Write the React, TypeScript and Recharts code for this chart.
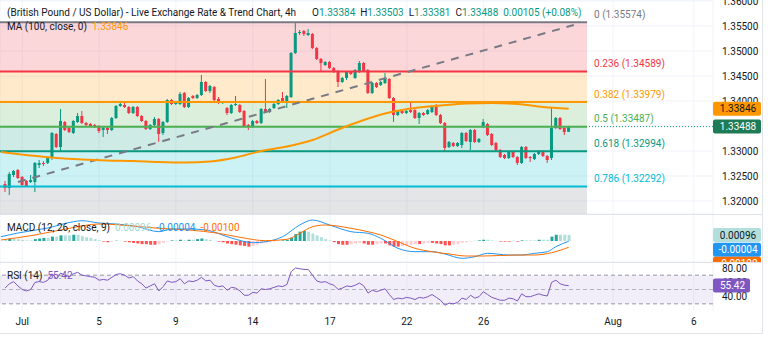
import {
  ComposedChart,
  Bar,
  Line,
  XAxis,
  YAxis,
  CartesianGrid,
  ReferenceArea,
  ReferenceLine,
  Cell,
} from 'recharts';

// GBP/USD 4h candles (index 0 = first visible bar)
const open = [
  1.3234, 1.3226, 1.3252, 1.3262, 1.3248, 1.324, 1.3238, 1.3238, 1.3272, 1.3276,
  1.3276, 1.3286, 1.3334, 1.3308, 1.3358, 1.3346, 1.3336, 1.3358, 1.337, 1.3356,
  1.3354, 1.3352, 1.335, 1.3342, 1.3346, 1.3342, 1.3366, 1.339, 1.3392, 1.3388,
  1.3376, 1.3388, 1.337, 1.336, 1.3344, 1.3352, 1.3364, 1.3336, 1.3358, 1.3402,
  1.3394, 1.3394, 1.3416, 1.3388, 1.341, 1.3406, 1.3412, 1.3438, 1.342, 1.3428,
  1.3404, 1.3396, 1.3386, 1.3376, 1.3392, 1.3392, 1.338, 1.3352, 1.3348, 1.336,
  1.3356, 1.3384, 1.3378, 1.3386, 1.3394, 1.3406, 1.34, 1.3408, 1.3496, 1.3536,
  1.354, 1.3532, 1.3534, 1.3506, 1.3484, 1.3472, 1.3478, 1.3466, 1.3458, 1.3438,
  1.3446, 1.3458, 1.3446, 1.3458, 1.3476, 1.3462, 1.3416, 1.3436, 1.3432, 1.3436,
  1.3444, 1.3406, 1.3372, 1.338, 1.3376, 1.3382, 1.3382, 1.3366, 1.3376, 1.3374,
  1.3378, 1.339, 1.3372, 1.3356, 1.3308, 1.3316, 1.331, 1.3312, 1.3336, 1.3318,
  1.3342, 1.3318, 1.3348, 1.3354, 1.3334, 1.3316, 1.3302, 1.3292, 1.3286, 1.3298,
  1.3288, 1.3276, 1.3308, 1.3288, 1.3284, 1.3294, 1.33, 1.329, 1.3286, 1.3346,
  1.3366, 1.3346, 1.33384,
];
const high = [
  1.324, 1.3258, 1.3262, 1.3264, 1.325, 1.3242, 1.3252, 1.3278, 1.3282, 1.328,
  1.3288, 1.3338, 1.3336, 1.3384, 1.336, 1.3348, 1.3362, 1.3376, 1.338, 1.3358,
  1.3356, 1.3354, 1.3352, 1.3348, 1.3348, 1.3368, 1.3392, 1.3398, 1.3396, 1.339,
  1.339, 1.339, 1.3372, 1.3362, 1.3354, 1.3368, 1.3366, 1.336, 1.3404, 1.3404,
  1.34, 1.3418, 1.3418, 1.3408, 1.3412, 1.3414, 1.3452, 1.344, 1.3432, 1.343,
  1.3408, 1.34, 1.3388, 1.3394, 1.341, 1.3394, 1.3382, 1.3354, 1.3362, 1.3362,
  1.3386, 1.3444, 1.3386, 1.3396, 1.3404, 1.3418, 1.3412, 1.3498, 1.35574, 1.3542,
  1.3542, 1.3544, 1.3536, 1.3508, 1.3486, 1.348, 1.348, 1.3468, 1.3462, 1.3448,
  1.346, 1.346, 1.3464, 1.348, 1.3478, 1.3464, 1.3438, 1.3438, 1.344, 1.3456,
  1.3446, 1.3408, 1.3382, 1.3382, 1.3384, 1.3396, 1.3384, 1.3378, 1.3378, 1.3384,
  1.3392, 1.3394, 1.3374, 1.3358, 1.332, 1.3318, 1.3318, 1.3338, 1.3338, 1.3344,
  1.3344, 1.3326, 1.3364, 1.3356, 1.3336, 1.3318, 1.3304, 1.3294, 1.33, 1.33,
  1.329, 1.331, 1.331, 1.329, 1.3296, 1.3302, 1.3302, 1.3292, 1.3386, 1.3368,
  1.3368, 1.3348, 1.33503,
];
const low = [
  1.3218, 1.3212, 1.3248, 1.3244, 1.323, 1.3228, 1.3236, 1.3218, 1.3266, 1.327,
  1.3274, 1.3282, 1.3306, 1.3298, 1.334, 1.3336, 1.3334, 1.3356, 1.3354, 1.335,
  1.3348, 1.3346, 1.3336, 1.3328, 1.3334, 1.334, 1.3364, 1.3388, 1.3386, 1.3374,
  1.3374, 1.3368, 1.3358, 1.3342, 1.3342, 1.335, 1.3318, 1.3332, 1.3356, 1.3392,
  1.3392, 1.3392, 1.3386, 1.3386, 1.3404, 1.3404, 1.341, 1.3418, 1.3416, 1.3396,
  1.3394, 1.3394, 1.3372, 1.3374, 1.339, 1.3376, 1.3348, 1.3342, 1.3346, 1.3354,
  1.3354, 1.3376, 1.3376, 1.3384, 1.3392, 1.3398, 1.3386, 1.3406, 1.3494, 1.3532,
  1.353, 1.353, 1.3504, 1.3482, 1.3458, 1.347, 1.3464, 1.3456, 1.3428, 1.3436,
  1.3442, 1.3452, 1.3444, 1.3456, 1.3458, 1.3414, 1.3414, 1.3426, 1.343, 1.3434,
  1.3404, 1.3358, 1.337, 1.3374, 1.3374, 1.3376, 1.3364, 1.3354, 1.337, 1.3372,
  1.3376, 1.337, 1.3354, 1.3298, 1.3306, 1.3308, 1.3308, 1.3306, 1.3318, 1.3302,
  1.3316, 1.3316, 1.3346, 1.333, 1.331, 1.3298, 1.3286, 1.3284, 1.3284, 1.3286,
  1.3272, 1.3274, 1.3284, 1.3278, 1.3282, 1.3292, 1.3288, 1.3276, 1.3282, 1.3344,
  1.3342, 1.3332, 1.33381,
];
const close = [
  1.3226, 1.3254, 1.326, 1.3246, 1.3232, 1.323, 1.3242, 1.3276, 1.3276, 1.3274,
  1.3286, 1.3336, 1.3308, 1.336, 1.3342, 1.3338, 1.336, 1.337, 1.3356, 1.3352,
  1.335, 1.3348, 1.334, 1.3346, 1.3342, 1.3366, 1.339, 1.3394, 1.3388, 1.3376,
  1.3388, 1.337, 1.336, 1.3344, 1.3352, 1.3364, 1.3334, 1.3358, 1.3402, 1.3394,
  1.3398, 1.3414, 1.3388, 1.3406, 1.3406, 1.3412, 1.3438, 1.342, 1.343, 1.3402,
  1.3396, 1.3398, 1.3376, 1.3392, 1.3394, 1.3378, 1.335, 1.3348, 1.336, 1.3356,
  1.3384, 1.3378, 1.3384, 1.3394, 1.3402, 1.34, 1.341, 1.3496, 1.3536, 1.3538,
  1.3534, 1.3536, 1.3506, 1.3484, 1.3476, 1.3478, 1.3466, 1.3458, 1.3438, 1.3446,
  1.3458, 1.3454, 1.3462, 1.3476, 1.346, 1.3416, 1.3436, 1.3428, 1.3438, 1.3446,
  1.3406, 1.3372, 1.338, 1.3376, 1.338, 1.3378, 1.3366, 1.3376, 1.3372, 1.3382,
  1.3388, 1.3372, 1.3356, 1.3306, 1.3318, 1.331, 1.3316, 1.3336, 1.332, 1.3342,
  1.3318, 1.3324, 1.3358, 1.3332, 1.3312, 1.3302, 1.3288, 1.3286, 1.3298, 1.3288,
  1.3276, 1.3308, 1.3286, 1.3286, 1.3294, 1.33, 1.329, 1.3282, 1.3346, 1.3366,
  1.3344, 1.3338, 1.33488,
];

// MA(100, close) sampled along the curve
const maIdx = [-1, 0, 6, 12, 18, 24, 30, 36, 42, 48, 54, 60, 66, 72, 78, 84, 90, 96, 102, 108, 114, 120, 126, 132];
const maVal = [
  1.3298, 1.3297, 1.3291, 1.3286, 1.3283, 1.3281, 1.328, 1.3278, 1.3277, 1.3279, 1.3287, 1.33,
  1.3309, 1.3322, 1.3343, 1.3362, 1.3377, 1.3386, 1.3391, 1.3395, 1.3396, 1.3394, 1.3388, 1.33846,
];

// fibonacci retracement
const fibRatios = ['0', '0.236', '0.382', '0.5', '0.618', '0.786'];
const fibPrices = [1.35574, 1.34589, 1.33979, 1.33487, 1.32994, 1.32292];
const fibBottom = 1.314; // level 1, below the visible range
const fibColors = ['#787b86', '#f23645', '#ff9800', '#4caf50', '#089981', '#00bcd4'];
const fibZoneColors = ['#f23645', '#ff9800', '#4caf50', '#089981', '#00bcd4', '#787b86'];

// MACD (12, 26, close, 9)
const hist = [
  0.0003, 0.0004, 0.0004, 0.0003, 0.0002, 0.0001, 0.0001, 0.0003, 0.0004, 0.0005,
  0.0005, 0.0007, 0.0007, 0.0009, 0.0009, 0.0009, 0.001, 0.001, 0.0008, 0.0006,
  0.0005, 0.0003, 0.0001, -0.0001, -0.0002, -0.0001, 0.00005, 0.00005, -0.0001, -0.0002,
  -0.0003, -0.0004, -0.0005, -0.0005, -0.0006, -0.0006, -0.0005, -0.0003, -0.0001, 0.0001,
  0.0001, 0.0002, 0.0001, 0.0002, 0.0002, 0.0003, 0.0004, 0.0003, 0.0002, 0.00002,
  -0.0001, -0.0002, -0.0004, -0.0005, -0.0006, -0.0007, -0.0008, -0.0009, -0.0008, -0.0006,
  -0.0004, -0.0003, -0.0002, -0.0001, 0.00002, 0.0001, 0.0002, 0.0005, 0.0011, 0.0015,
  0.0016, 0.0015, 0.0012, 0.0009, 0.0006, 0.0003, 0.0001, -0.0002, -0.0005, -0.0006,
  -0.0006, -0.0005, -0.0004, -0.0003, -0.0004, -0.0006, -0.0006, -0.0005, -0.0004, -0.0004,
  -0.0007, -0.0009, -0.0009, -0.0008, -0.0007, -0.0006, -0.0005, -0.0005, -0.0004, -0.0003,
  -0.0003, -0.0004, -0.0005, -0.0007, -0.0007, -0.0006, -0.0005, -0.0003, -0.0002, -0.0001,
  0.00002, 0.0001, 0.0002, 0.0002, 0.0001, 0.00002, -0.0001, -0.0001, -0.0001, 0.00002,
  -0.0001, 0.0001, 0.0001, 0.0001, 0.0001, 0.0002, 0.0002, 0.0002, 0.0007, 0.001,
  0.001, 0.001, 0.00096,
];
const macdIdx = [-1, 3, 10, 16, 18, 22, 26, 31, 36, 39, 43, 47, 53, 58, 61, 65, 69, 72, 76, 81, 85, 88, 92, 96, 100, 103, 107, 110, 113, 118, 121, 124, 127, 129, 132];
const macdVal = [
  0.00069, 0.00128, 0.00208, 0.00309, 0.00325, 0.00288, 0.00272, 0.00229, 0.00149, 0.00192,
  0.00192, 0.00176, 0.00048, -0.00027, -0.00011, 0.00069, 0.00256, 0.00336, 0.00256, 0.00149,
  0.00123, 0.00043, -0.00117, -0.00171, -0.00171, -0.00208, -0.00277, -0.00251, -0.00197, -0.00224,
  -0.00224, -0.00197, -0.00171, -0.00091, -0.00004,
];
const signalIdx = [-1, 7, 15, 22, 30, 36, 43, 50, 55, 61, 66, 69, 72, 75, 81, 85, 88, 92, 96, 100, 104, 108, 112, 120, 124, 128, 132];
const signalVal = [
  0.00016, 0.00096, 0.00203, 0.00272, 0.0024, 0.00203, 0.00176, 0.00123, 0.00059, 0.00005,
  0.00027, 0.00123, 0.00229, 0.00256, 0.00203, 0.00149, 0.00096, -0.00011, -0.00117, -0.00171,
  -0.00208, -0.0024, -0.0024, -0.00224, -0.00224, -0.00187, -0.001,
];

// RSI (14)
const rsi = [
  52, 58, 61, 55, 50, 48, 50, 60, 61, 60,
  63, 72, 65, 73, 70, 68, 72, 74, 70, 69,
  68, 67, 63, 64, 63, 67, 71, 72, 70, 66,
  68, 62, 58, 52, 55, 58, 48, 54, 62, 60,
  61, 65, 58, 62, 61, 63, 67, 62, 63, 56,
  54, 55, 49, 53, 52, 48, 42, 42, 46, 45,
  51, 50, 51, 53, 55, 54, 57, 75, 80, 79,
  78, 78, 70, 62, 60, 61, 58, 56, 50, 52,
  55, 54, 56, 59, 55, 45, 49, 47, 49, 51,
  43, 36, 38, 37, 39, 38, 36, 39, 38, 40,
  43, 39, 35, 28, 31, 30, 32, 38, 36, 42,
  38, 40, 47, 43, 39, 37, 35, 35, 38, 37,
  34, 44, 40, 40, 42, 44, 42, 41, 60, 63,
  58, 56, 55.42,
];

// time axis
const dateTicks = [4, 22, 40, 58, 76.1, 94.1, 112.1, 142.4, 161.3];
const dateLabels = ['Jul', '5', '9', '14', '17', '22', '26', 'Aug', '6'];
const priceTicks = [1.32, 1.325, 1.33, 1.335, 1.34, 1.345, 1.35, 1.355, 1.36];
const rsiTicks = [40, 60, 80];

const W = 768;
const AXIS_W = 55;
const X_DOMAIN: [number, number] = [-1.2, 165.8];
const PRICE_DOMAIN: [number, number] = [1.3174, 1.3602];
const MACD_DOMAIN: [number, number] = [-0.00336, 0.00432];
const RSI_DOMAIN: [number, number] = [20, 87];
const FIB_END = 136.3;
const FONT = 'Roboto, "Noto Sans", Arial, sans-serif';
const TEXT = '#131722';
const GRID = '#f0f3fa';
const UP = '#089981';
const DOWN = '#f23645';
const NO_MARGIN = { top: 0, right: 0, left: 0, bottom: 0 };

const last = close.length - 1;
const candleRows = open.map((o, i) => ({
  i,
  open: o,
  high: high[i],
  low: low[i],
  close: close[i],
  range: [low[i], high[i]],
}));
const maRows = maIdx.map((i, k) => ({ i, ma: maVal[k] }));
const histRows = hist.map((h, i) => ({ i, hist: h }));
const macdRows = macdIdx.map((i, k) => ({ i, v: macdVal[k] }));
const signalRows = signalIdx.map((i, k) => ({ i, v: signalVal[k] }));
const rsiRows = rsi.map((r, i) => ({ i, rsi: r }));

const histColor = (i: number) => {
  const h = hist[i];
  const prev = i > 0 ? hist[i - 1] : h;
  if (h >= 0) return h > prev ? '#26a69a' : '#b2dfdb';
  return h > prev ? '#ffcdd2' : '#ff5252';
};

const Candle = (props: any) => {
  const { x, y, width, height, payload } = props;
  if (!payload || x == null) return null;
  const top = Math.min(y, y + height);
  const h = Math.abs(height);
  const span = payload.high - payload.low;
  const k = span > 0 ? h / span : 0;
  const yo = top + (payload.high - payload.open) * k;
  const yc = top + (payload.high - payload.close) * k;
  const color = payload.close >= payload.open ? UP : DOWN;
  const cx = x + width / 2;
  return (
    <g>
      <line x1={cx} x2={cx} y1={top} y2={top + h} stroke={color} strokeWidth={1} />
      <rect x={cx - 1.5} y={Math.min(yo, yc)} width={3} height={Math.max(1, Math.abs(yo - yc))} fill={color} />
    </g>
  );
};

// price tag drawn on the right scale
const tag = (text: string, bg: string, fg: string, shift = 0, w = 48) => (p: any) => {
  const vb = p.viewBox || {};
  const x = (vb.x ?? 0) + (vb.width ?? 0);
  const y = (vb.y ?? 0) + shift;
  return (
    <g>
      <rect x={x} y={y - 7} width={w} height={14} rx={2} fill={bg} />
      <text x={x + w / 2 + 1} y={y + 3.5} textAnchor="middle" fontSize={10} fontFamily={FONT} fill={fg}>
        {text}
      </text>
    </g>
  );
};

const fibLabel = (text: string, color: string) => (p: any) => {
  const vb = p.viewBox || {};
  return (
    <text x={(vb.x ?? 0) + (vb.width ?? 0) + 7} y={(vb.y ?? 0) - 4.5} fontSize={10} fontFamily={FONT} fill={color}>
      {text}
    </text>
  );
};

const Txt = ({ x, y, color = TEXT, children }: any) => (
  <div
    style={{
      position: 'absolute',
      left: x,
      top: y - 6,
      fontSize: 10,
      lineHeight: '12px',
      color,
      whiteSpace: 'nowrap',
      fontFamily: FONT,
    }}
  >
    {children}
  </div>
);

const hline = (top: number) => (
  <div style={{ position: 'absolute', left: 0, top, width: 762, height: 1, background: '#e0e3eb' }} />
);

const layer = (top: number): any => ({ position: 'absolute', left: 0, top });

// hidden axes so that an overlay chart shares the scales of the pane below it
const ghostAxes = (domain: [number, number]) => [
  <XAxis key="x" dataKey="i" type="number" domain={X_DOMAIN} hide height={0} allowDataOverflow />,
  <YAxis key="y" orientation="right" width={AXIS_W} domain={domain} tick={false} axisLine={false} tickLine={false} allowDataOverflow />,
];

export default function App() {
  const fibZones = fibPrices.map((p, k) => [p, k + 1 < fibPrices.length ? fibPrices[k + 1] : fibBottom]);

  return (
    <div style={{ position: 'absolute', left: 0, top: 0, width: W, height: 344, background: '#fff', fontFamily: FONT }}>
      {/* price pane */}
      <div style={layer(0)}>
        <ComposedChart width={W} height={214} data={candleRows} margin={NO_MARGIN}>
          <CartesianGrid stroke={GRID} />
          <XAxis dataKey="i" type="number" domain={X_DOMAIN} ticks={dateTicks} hide height={0} allowDataOverflow />
          <YAxis
            orientation="right"
            width={AXIS_W}
            domain={PRICE_DOMAIN}
            ticks={priceTicks}
            allowDataOverflow
            axisLine={false}
            tickLine={false}
            tickSize={0}
            tickMargin={9}
            interval={0}
            tick={{ fontSize: 10, fill: TEXT, fontFamily: FONT }}
            tickFormatter={(v: number) => v.toFixed(5)}
          />
          <ReferenceLine y={close[last]} stroke={UP} strokeDasharray="1 2" />
          {fibZones.map(([a, b], k) => (
            <ReferenceArea
              key={'z' + k}
              x1={X_DOMAIN[0]}
              x2={FIB_END}
              y1={b}
              y2={a}
              fill={fibZoneColors[k]}
              fillOpacity={0.2}
              stroke="none"
              ifOverflow="hidden"
            />
          ))}
          {fibPrices.map((p, k) => (
            <ReferenceLine
              key={'f' + k}
              segment={[
                { x: X_DOMAIN[0], y: p },
                { x: FIB_END, y: p },
              ]}
              stroke={fibColors[k]}
              strokeWidth={2}
              label={fibLabel(`${fibRatios[k]} (${p.toFixed(5)})`, fibColors[k])}
            />
          ))}
          <ReferenceLine
            segment={[
              { x: 3, y: 1.3238 },
              { x: 133.2, y: 1.3552 },
            ]}
            stroke="#787b86"
            strokeWidth={2}
            strokeDasharray="8 7"
          />
          <Bar dataKey="range" shape={Candle} barSize={4} activeBar={false} isAnimationActive={false} />
          <Line
            data={maRows}
            dataKey="ma"
            type="monotone"
            stroke="#ff9800"
            strokeWidth={2}
            dot={false}
            activeDot={false}
            isAnimationActive={false}
          />
        </ComposedChart>
      </div>
      <div style={layer(0)}>
        <ComposedChart width={W} height={214} data={candleRows} margin={NO_MARGIN}>
          {ghostAxes(PRICE_DOMAIN)}
          <ReferenceLine y={maVal[maVal.length - 1]} stroke="none" label={tag('1.33846', '#ff9800', TEXT)} />
          <ReferenceLine y={close[last]} stroke="none" label={tag('1.33488', '#1e7b55', '#fff')} />
        </ComposedChart>
      </div>

      {/* MACD pane */}
      <div style={layer(214)}>
        <ComposedChart width={W} height={48} data={histRows} margin={NO_MARGIN}>
          <CartesianGrid stroke={GRID} />
          <XAxis dataKey="i" type="number" domain={X_DOMAIN} ticks={dateTicks} hide height={0} allowDataOverflow />
          <YAxis
            orientation="right"
            width={AXIS_W}
            domain={MACD_DOMAIN}
            ticks={[0]}
            tick={false}
            axisLine={false}
            tickLine={false}
            allowDataOverflow
          />
          <Bar dataKey="hist" barSize={3} activeBar={false} isAnimationActive={false}>
            {histRows.map((_, i) => (
              <Cell key={i} fill={histColor(i)} />
            ))}
          </Bar>
          <Line data={macdRows} dataKey="v" type="monotone" stroke="#2196f3" strokeWidth={1} dot={false} activeDot={false} isAnimationActive={false} />
          <Line data={signalRows} dataKey="v" type="monotone" stroke="#ff6d00" strokeWidth={1} dot={false} activeDot={false} isAnimationActive={false} />
          <ReferenceLine y={hist[last]} stroke="none" label={tag('0.00096', '#b2dfdb', TEXT)} />
          <ReferenceLine y={macdVal[macdVal.length - 1]} stroke="none" label={tag('-0.00004', '#2196f3', '#fff', 8.5)} />
          <ReferenceLine y={signalVal[signalVal.length - 1]} stroke="none" label={tag('-0.00100', '#ff6d00', '#fff', 16.5)} />
        </ComposedChart>
      </div>

      {/* RSI pane + time axis */}
      <div style={{ ...layer(263), background: '#fff' }}>
        <ComposedChart width={W} height={81} data={rsiRows} margin={NO_MARGIN}>
          <CartesianGrid stroke={GRID} horizontal={false} />
          <XAxis
            dataKey="i"
            type="number"
            domain={X_DOMAIN}
            ticks={dateTicks}
            interval={0}
            height={33}
            allowDataOverflow
            axisLine={false}
            tickLine={false}
            tickSize={0}
            tickMargin={7}
            tick={{ fontSize: 10, fill: TEXT, fontFamily: FONT }}
            tickFormatter={(v: number) => dateLabels[dateTicks.indexOf(v)] ?? ''}
          />
          <YAxis
            orientation="right"
            width={AXIS_W}
            domain={RSI_DOMAIN}
            ticks={rsiTicks}
            interval={0}
            allowDataOverflow
            axisLine={false}
            tickLine={false}
            tickSize={0}
            tickMargin={9}
            tick={{ fontSize: 10, fill: TEXT, fontFamily: FONT }}
            tickFormatter={(v: number) => v.toFixed(2)}
          />
          <ReferenceArea y1={30} y2={70} fill="#7e57c2" fillOpacity={0.1} stroke="none" />
          <ReferenceLine y={70} stroke="#9598a1" strokeDasharray="4 3" />
          <ReferenceLine y={50} stroke="#b2b5be" strokeDasharray="4 3" />
          <ReferenceLine y={30} stroke="#9598a1" strokeDasharray="4 3" />
          <Line dataKey="rsi" type="linear" stroke="#7e57c2" strokeWidth={1} dot={false} activeDot={false} isAnimationActive={false} />
        </ComposedChart>
      </div>
      <div style={layer(263)}>
        <ComposedChart width={W} height={48} data={rsiRows} margin={NO_MARGIN}>
          {ghostAxes(RSI_DOMAIN)}
          <ReferenceLine y={rsi[last]} stroke="none" label={tag('55.42', '#7e57c2', '#fff', 0, 37)} />
        </ComposedChart>
      </div>

      {hline(214)}
      {hline(262)}
      {hline(333)}
      <div style={{ position: 'absolute', left: 762, top: 0, width: 1, height: 334, background: '#e0e3eb' }} />

      <Txt x={7} y={13}>
        (British Pound / US Dollar) - Live Exchange Rate &amp; Trend Chart, 4h
      </Txt>
      <Txt x={312} y={13}>
        O<span style={{ color: UP }}>1.33384</span>&nbsp; H<span style={{ color: UP }}>1.33503</span>&nbsp; L
        <span style={{ color: UP }}>1.33381</span>&nbsp; C<span style={{ color: UP }}>1.33488</span>&nbsp;{' '}
        <span style={{ color: UP }}>0.00105 (+0.08%)</span>
      </Txt>
      <Txt x={7} y={27}>
        MA (100, close, 0)&nbsp; <span style={{ color: '#ff9800' }}>1.33846</span>
      </Txt>
      <Txt x={7} y={228}>
        MACD (12, 26, close, 9)&nbsp; <span style={{ color: '#9fd9d0' }}>0.00096</span>&nbsp;{' '}
        <span style={{ color: '#2196f3' }}>-0.00004</span>&nbsp; <span style={{ color: '#ff6d00' }}>-0.00100</span>
      </Txt>
      <Txt x={7} y={276}>
        RSI (14)&nbsp; <span style={{ color: '#7e57c2' }}>55.42</span>
      </Txt>
    </div>
  );
}
